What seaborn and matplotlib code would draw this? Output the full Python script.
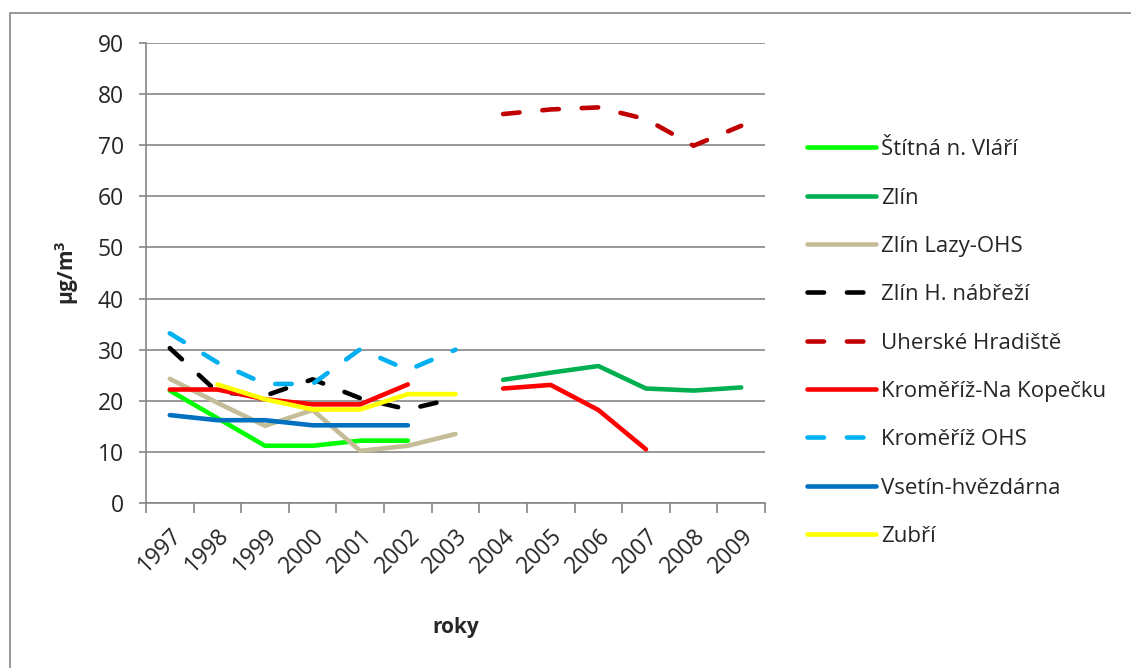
import numpy as np
import pandas as pd
import matplotlib
matplotlib.use("Agg")
import matplotlib.pyplot as plt
import seaborn as sns
from matplotlib.patches import Rectangle
from matplotlib.ticker import MultipleLocator

years = list(range(1997, 2010))
stitna = [22, 16.6, 11.2, 11.2, 12.2, 12.2, None, None, None, None, None, None, None]
zlin = [None, None, None, None, None, None, None, 24.1, 25.5, 26.8, 22.4, 22.0, 22.6]
zlin_lazy = [24.3, 19.6, 15.1, 18.2, 10.2, 11.2, 13.5, None, None, None, None, None, None]
zlin_nabrezi = [30.3, 21.7, 21.0, 24.2, 20.5, 18.3, 20.5, None, None, None, None, None, None]
uh_hradiste = [None, None, None, None, None, None, None, 76.1, 77.0, 77.4, 75.1, 69.9, 73.8]
km_kopecek = [22.2, 22.2, 20.3, 19.3, 19.3, 23.2, None, 22.4, 23.1, 18.2, 10.5, None, None]
km_ohs = [33.2, 27.5, 23.3, 23.3, 30.1, 26.0, 30.0, None, None, None, None, None, None]
vsetin = [17.2, 16.2, 16.2, 15.2, 15.2, 15.2, None, None, None, None, None, None, None]
zubri = [None, 23.2, 20.3, 18.3, 18.3, 21.3, 21.3, None, None, None, None, None, None]

series_names = ["Štítná n. Vláří", "Zlín", "Zlín Lazy-OHS", "Zlín H. nábřeží",
                "Uherské Hradiště", "Kroměříž-Na Kopečku", "Kroměříž OHS",
                "Vsetín-hvězdárna", "Zubří"]
series_values = [stitna, zlin, zlin_lazy, zlin_nabrezi, uh_hradiste,
                 km_kopecek, km_ohs, vsetin, zubri]
series_colors = ["#00FF00", "#00B050", "#C4BD97", "#000000", "#C00000",
                 "#FF0000", "#00B0F0", "#0070C0", "#FFFF00"]
series_dashed = [False, False, False, True, True, False, True, False, False]

sns.set_theme(style="white")
plt.rcParams['font.family'] = ['Open Sans', 'DejaVu Sans']

fig = plt.figure(figsize=(11.31, 6.68), dpi=100)
ax = fig.add_axes([146 / 1131, 1 - 503 / 668, 619 / 1131, 460 / 668])

# outer chart frame
fig.patches.append(Rectangle((10 / 1131, -0.1), 1.2, 1 - 13 / 668 + 0.1,
                             transform=fig.transFigure, fill=False,
                             edgecolor="#868686", linewidth=1.2, zorder=0))

lw = 3.3
for name, vals, color, dashed in zip(series_names, series_values, series_colors, series_dashed):
    df = pd.DataFrame({"year": years, "value": vals}).astype(float)
    # split into contiguous runs so gaps stay gaps
    run_id = df["value"].isna().cumsum()
    df = df.dropna()
    first = True
    for _, run in df.groupby(run_id.loc[df.index]):
        line_ax = sns.lineplot(data=run, x="year", y="value", ax=ax, color=color,
                               linewidth=lw, label=name if first else None,
                               legend=False)
        ln = line_ax.lines[-1]
        ln.set_solid_capstyle("round")
        ln.set_solid_joinstyle("round")
        if dashed:
            ln.set_dashes((3.6, 5.0))
            ln.set_dash_capstyle("round")
        first = False

ax.set_xlim(1996.5, 2009.5)
ax.set_ylim(0, 90)
ax.yaxis.set_major_locator(MultipleLocator(10))
ax.set_xticks(years)
ax.set_xticks(np.arange(1996.5, 2010, 1), minor=True)
ax.set_xticklabels([str(y) for y in years], rotation=45, ha="right",
                   rotation_mode="anchor", fontsize=16.5)
ax.tick_params(axis="x", which="major", length=0, pad=15)
ax.tick_params(axis="x", which="minor", length=7, width=1.2, color="#868686",
               direction="out", bottom=True)
ax.tick_params(axis="y", length=5, width=1.2, color="#868686", pad=11,
               labelsize=16.5, left=True)

ax.grid(axis="y", color="#868686", linewidth=1.2)
ax.set_axisbelow(True)
for side in ["top", "right"]:
    ax.spines[side].set_visible(False)
for side in ["left", "bottom"]:
    ax.spines[side].set_color("#868686")
    ax.spines[side].set_linewidth(1.2)

ax.set_xlabel("roky", fontsize=15, fontweight="bold", labelpad=28)
ax.set_ylabel("µg/m$^\\mathregular{3}$", fontsize=15, fontweight="bold", labelpad=12)

handles, labels = ax.get_legend_handles_labels()
fig.legend(handles, labels, loc="center left", bbox_to_anchor=(798 / 1131, 1 - 343 / 668),
           frameon=False, fontsize=16, handlelength=3.1, handletextpad=0.25,
           labelspacing=1.23, borderaxespad=0)

fig.savefig("out.png", dpi=100)
